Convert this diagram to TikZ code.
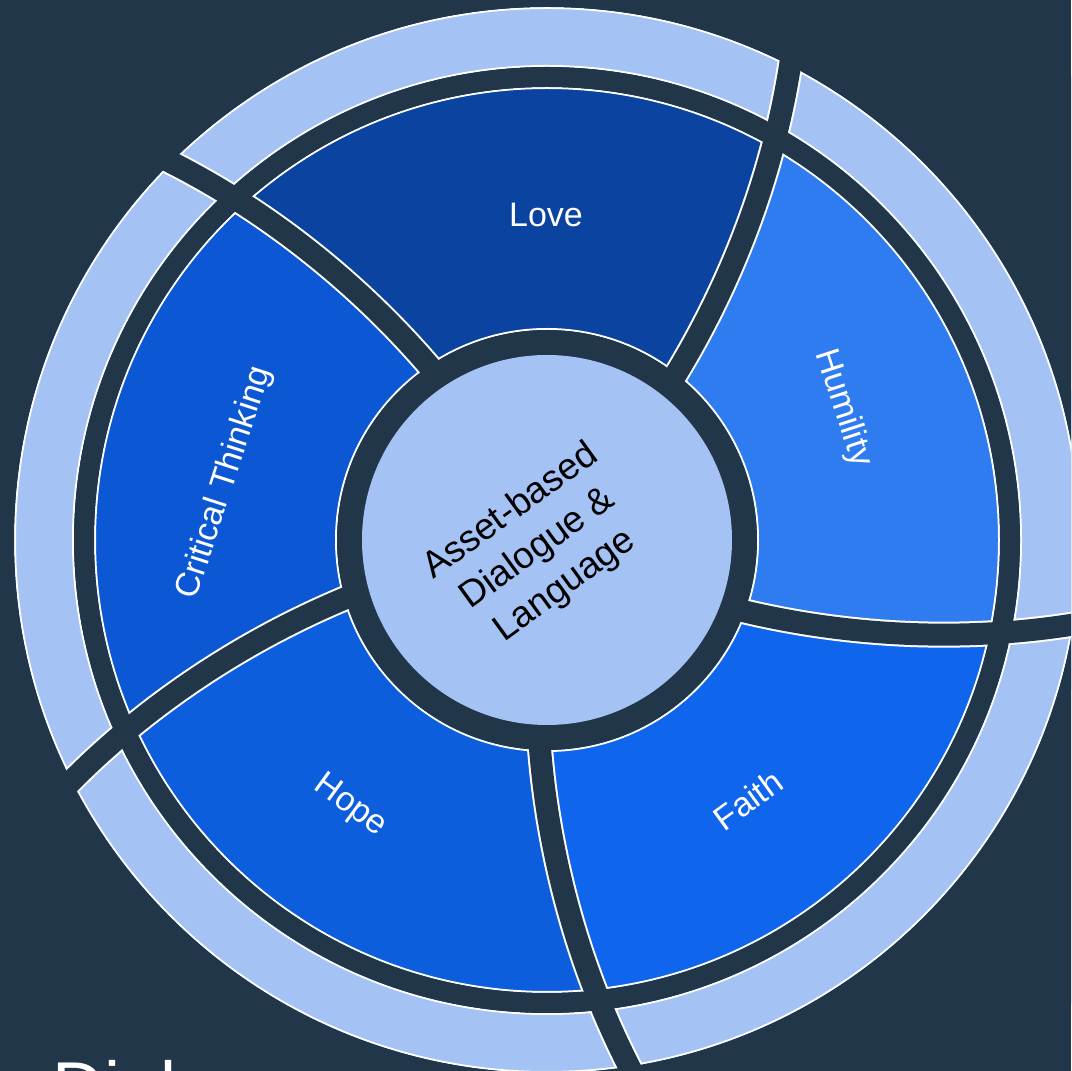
\documentclass[tikz,border=0pt]{standalone}
\usepackage{fontspec}
\setmainfont{Liberation Sans}
\definecolor{bgnavy}{RGB}{34,54,73}
\definecolor{paleblue}{HTML}{A4C2F4}
\definecolor{loveblue}{RGB}{11,67,160}
\definecolor{humilityblue}{RGB}{47,123,240}
\definecolor{faithblue}{RGB}{15,102,236}
\definecolor{hopeblue}{RGB}{12,94,221}
\definecolor{criticalblue}{RGB}{11,87,212}
\begin{document}
\begin{tikzpicture}[x=1pt,y=1pt,
  seglabel/.style={text=white,font=\fontsize{34}{41}\selectfont,inner sep=0pt},
  hublabel/.style={text=black,font=\fontsize{37}{46}\selectfont,align=center,inner sep=0pt},
  rim/.style={draw=white,line width=2pt},
  divider/.style={draw=white,line width=2pt,double=bgnavy,double distance=22pt},
]
\useasboundingbox (0,0) rectangle (1071,1071);
\clip (0,0) rectangle (1071,1071);
\fill[bgnavy] (0,0) rectangle (1071,1071);
\begin{scope}[shift={(547,531)}]
  % coloured wedges, each bounded by two neighbouring curved dividers
  \foreach \c [count=\k from 0] in {loveblue,criticalblue,hopeblue,faithblue,humilityblue}{
    \pgfmathsetmacro{\a}{72*\k}
    \pgfmathsetmacro{\b}{72*\k+72}
    \fill[\c] (51.8+\a:200) .. controls (54.1+\a:316.5) and (58.35+\a:435.7) .. (63.3+\a:545)
      arc[start angle=63.3+\a, end angle=63.3+\b, radius=545]
      .. controls (58.35+\b:435.7) and (54.1+\b:316.5) .. (51.8+\b:200)
      arc[start angle=51.8+\b, end angle=51.8+\a, radius=200] -- cycle;
  }
  % outer pale ring
  \fill[paleblue,even odd rule] (0,0) circle[radius=532] (0,0) circle[radius=474];
  % white rims of both rings
  \foreach \r in {211,452,474,532} \draw[rim] (0,0) circle[radius=\r];
  % curved gaps that cut both rings
  \foreach \k in {0,...,4}{
    \pgfmathsetmacro{\a}{72*\k}
    \draw[divider] (51.8+\a:200) .. controls (54.1+\a:316.5) and (58.35+\a:435.7) .. (63.3+\a:545);
  }
  % trim the dividers back to the rings
  \fill[bgnavy,even odd rule] (0,0) circle[radius=473] (0,0) circle[radius=453];
  \fill[bgnavy,even odd rule] (0,0) circle[radius=533] (0,0) circle[radius=700];
  \fill[bgnavy] (0,0) circle[radius=210];
  % hub
  \fill[paleblue] (0,0) circle[radius=185];
\end{scope}
\node[seglabel] (love) at (546,856) {Love};
\node[seglabel,rotate=-72] (humility) at (843,663) {Humility};
\node[seglabel,rotate=36] (faith) at (748,271) {Faith};
\node[seglabel,rotate=-36] (hope) at (350,265) {Hope};
\node[seglabel,rotate=72] (critical) at (225,588) {Critical Thinking};
\node[hublabel,rotate=36] (hub) at (538,522) {Asset-based\\Dialogue \&\\Language};
\node[text=white,font=\fontsize{72}{84}\selectfont,anchor=base west,inner sep=0pt] (title) at (52,-41) {Dial};
\end{tikzpicture}
\end{document}
